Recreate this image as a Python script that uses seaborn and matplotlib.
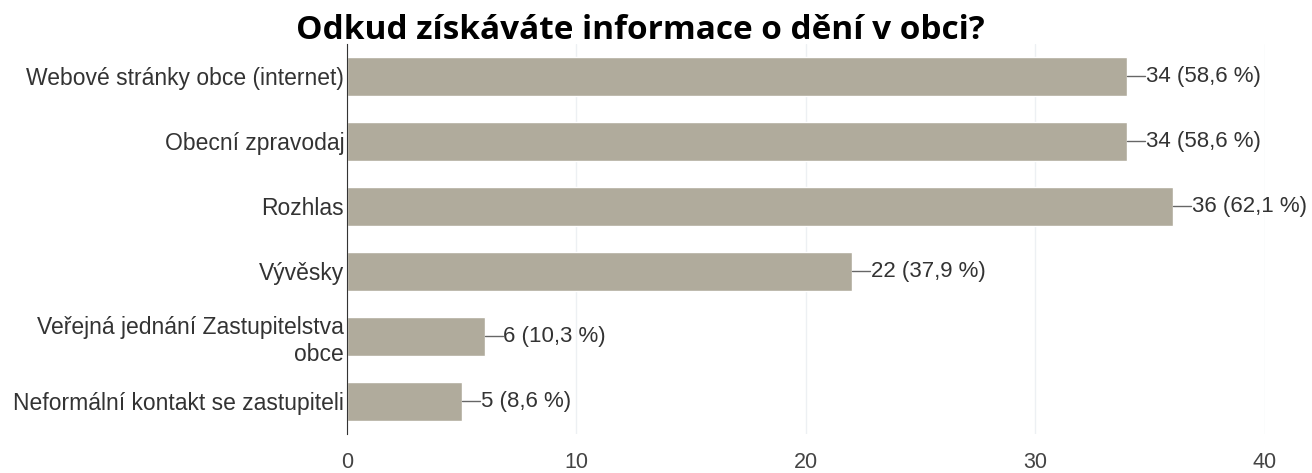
import pandas as pd
import seaborn as sns
import matplotlib.pyplot as plt

# Data
kategorie = ['Webové stránky obce (internet)', 'Obecní zpravodaj', 'Rozhlas', 'Vývěsky',
             'Veřejná jednání Zastupitelstva\nobce', 'Neformální kontakt se zastupiteli']
pocty = [34, 34, 36, 22, 6, 5]
procenta = ['58,6', '58,6', '62,1', '37,9', '10,3', '8,6']
x_ticks = [0, 10, 20, 30, 40]

df = pd.DataFrame({'kategorie': kategorie, 'pocet': pocty})

sns.set_style('white')
plt.rcParams['font.family'] = ['Liberation Sans', 'DejaVu Sans']

fig = plt.figure(figsize=(13.12, 4.73), dpi=100)
ax = fig.add_axes([0.2645, 0.0825, 0.6995, 0.8245])

sns.barplot(data=df, x='pocet', y='kategorie', color='#b0ab9c', saturation=1,
            width=0.6, ax=ax)

# leader lines + value labels
for i, (v, p) in enumerate(zip(pocty, procenta)):
    ax.plot([v, v + 0.8], [i, i], color='#666666', lw=1)
    ax.text(v + 0.82, i, f'{v} ({p} %)', va='center', ha='left', fontsize=16, color='#333333')

ax.set_xlim(0, 40)
ax.set_ylim(len(kategorie) - 0.5, -0.5)
ax.set_xticks(x_ticks)
ax.xaxis.grid(True, color='#edf0f3', lw=1)
ax.set_axisbelow(True)
for s in ['top', 'right', 'bottom']:
    ax.spines[s].set_visible(False)
ax.spines['left'].set_color('#333333')
ax.tick_params(axis='x', labelsize=15.5, colors='#444444', length=0, pad=13)
ax.tick_params(axis='y', labelsize=16.5, colors='#333333', length=0, pad=2)
for lbl in ax.get_yticklabels():
    lbl.set_multialignment('right')
ax.set_xlabel('')
ax.set_ylabel('')

fig.text(0.488, 0.917, 'Odkud získáváte informace o dění v obci?', ha='center', va='baseline',
         fontsize=24, fontweight='bold', family='Open Sans', color='black')

fig.savefig('out.png', dpi=100)
plt.close()
